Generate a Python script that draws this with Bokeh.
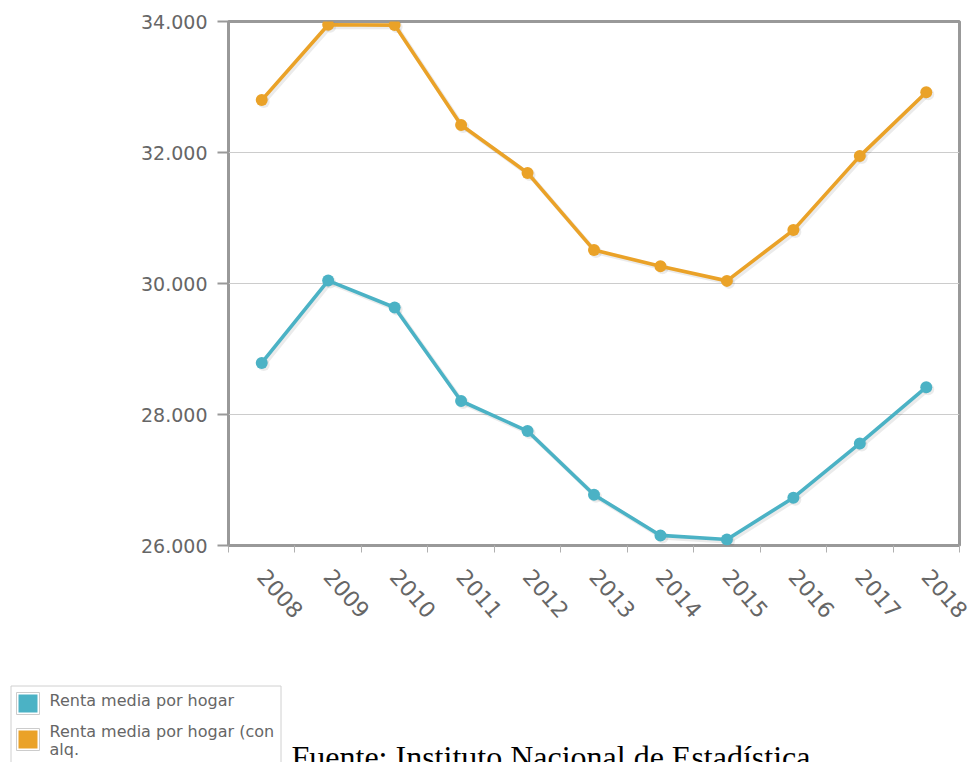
import math
import textwrap
from bokeh.plotting import figure
from bokeh.models import Range1d, FixedTicker, Label, ColumnDataSource
from bokeh.layouts import column
from bokeh.embed import file_html
from bokeh.resources import INLINE

# ---------------- data ----------------
years = [2008, 2009, 2010, 2011, 2012, 2013, 2014, 2015, 2016, 2017, 2018]
renta_hogar = [28787, 30045, 29634, 28206, 27747, 26775, 26154, 26092, 26730, 27558, 28417]
renta_hogar_alq = [32800, 33950, 33945, 32420, 31688, 30510, 30265, 30040, 30815, 31945, 32920]
series_names = ["Renta media por hogar", "Renta media por hogar (con alq."]
series_colors = ["#4bb2c5", "#eaa228"]
y_ticks = [26000, 28000, 30000, 32000, 34000]
y_tick_labels = ["26.000", "28.000", "30.000", "32.000", "34.000"]
ghost_title = "yenda"
source_text = "Fuente: Instituto Nacional de Estadística"

# ---------------- layout constants ----------------
W = 970
H_MAIN = 650
H_BOT = 112
FL, FR, FT, FB = 228, 11, 21, 105          # frame borders
FONT = "DejaVu Sans"

frame_w = W - FL - FR
frame_h = H_MAIN - FT - FB

x_start, x_end = years[0] - 0.5, years[-1] + 0.5
y_start, y_end = y_ticks[0], y_ticks[-1]

p = figure(width=W, height=H_MAIN, output_backend="svg", toolbar_location=None,
           x_range=Range1d(x_start, x_end), y_range=Range1d(y_start, y_end),
           min_border_left=FL, min_border_right=FR, min_border_top=FT, min_border_bottom=FB)
p.frame_align = False
p.background_fill_color = "white"
p.border_fill_color = "white"
p.outline_line_color = "#999999"
p.outline_line_width = 3

# shadow ranges (offset a couple of pixels right / down)
sh_dx = 2.0 * (x_end - x_start) / frame_w
sh_dy = 2.0 * (y_end - y_start) / frame_h
p.extra_x_ranges = {"shadow": Range1d(x_start - sh_dx, x_end - sh_dx)}
p.extra_y_ranges = {"shadow": Range1d(y_start + sh_dy, y_end + sh_dy)}

# x axis
bounds = [y - 0.5 for y in years] + [years[-1] + 0.5]
p.xaxis.ticker = FixedTicker(ticks=years, minor_ticks=bounds)
p.xaxis.axis_line_color = None
p.xaxis.major_tick_in = 0
p.xaxis.major_tick_out = 0
p.xaxis.minor_tick_in = 0
p.xaxis.minor_tick_out = 7
p.xaxis.minor_tick_line_color = "#b0b0b0"
p.xaxis.minor_tick_line_width = 1
p.xaxis.major_label_orientation = -0.85
p.xaxis.major_label_standoff = 20
p.xaxis.major_label_text_font = FONT
p.xaxis.major_label_text_font_size = "22px"
p.xaxis.major_label_text_color = "#666666"

# y axis
p.yaxis.ticker = FixedTicker(ticks=y_ticks)
p.yaxis.major_label_overrides = dict(zip(y_ticks, y_tick_labels))
p.yaxis.axis_line_color = None
p.yaxis.major_tick_in = 0
p.yaxis.major_tick_out = 11
p.yaxis.major_tick_line_color = "#999999"
p.yaxis.major_tick_line_width = 2
p.yaxis.minor_tick_line_color = None
p.yaxis.major_label_standoff = 10
p.yaxis.major_label_text_font = FONT
p.yaxis.major_label_text_font_size = "19px"
p.yaxis.major_label_text_color = "#666666"

p.xgrid.grid_line_color = None
p.ygrid.grid_line_color = "#cccccc"
p.ygrid.grid_line_width = 1

for vals, color in zip([renta_hogar, renta_hogar_alq], series_colors):
    src = ColumnDataSource(dict(x=years, y=vals))
    p.line("x", "y", source=src, x_range_name="shadow", y_range_name="shadow",
           line_color="black", line_alpha=0.08, line_width=4.5)
    p.scatter("x", "y", source=src, x_range_name="shadow", y_range_name="shadow",
              size=12, fill_color="black", fill_alpha=0.08, line_color=None)
    p.line("x", "y", source=src, line_color=color, line_width=3.6)
    p.scatter("x", "y", source=src, size=12, fill_color=color, line_color=None)

# faint ghost of a legend title behind the chart (placed left of the frame)
ghost_x = x_start - (FL - 137) * (x_end - x_start) / frame_w
ghost_y = y_end - (73 - FT) * (y_end - y_start) / frame_h
p.add_layout(Label(x=ghost_x, y=ghost_y, text=ghost_title, text_font=FONT,
                   text_font_size="24px", text_color="#e8e8e8",
                   text_baseline="alphabetic", text_align="left"))

# ---------------- bottom panel: legend + source ----------------
q = figure(width=W, height=H_BOT, output_backend="svg", toolbar_location=None,
           x_range=Range1d(0, W), y_range=Range1d(H_BOT, 0),
           x_axis_location=None, y_axis_location=None, min_border=0)
q.frame_align = False
q.grid.visible = False
q.outline_line_color = None
q.background_fill_color = "white"
q.border_fill_color = "white"

q.quad(left=10.5, right=280.5, top=35.5, bottom=H_BOT + 10,
       fill_color="white", line_color="#d0d0d0", line_width=1)

sw_tops = [42, 78]
text_base = [[50], [81, 99]]
for name, color, top, bases in zip(series_names, series_colors, sw_tops, text_base):
    q.quad(left=16, right=39, top=top, bottom=top + 22, fill_color="white",
           line_color="#cccccc", line_width=1)
    q.quad(left=18, right=37, top=top + 2, bottom=top + 20, fill_color=color,
           line_color=None)
    lines = textwrap.wrap(name, 26)
    for ln, b in zip(lines, bases):
        q.add_layout(Label(x=49, y=b, text=ln, text_font=FONT, text_font_size="16px",
                           text_color="#666666", text_baseline="alphabetic",
                           text_align="left"))

q.add_layout(Label(x=291, y=106, text=source_text, text_font="Liberation Serif",
                   text_font_size="32px", text_color="#000000",
                   text_baseline="alphabetic", text_align="left"))

layout = column(p, q, spacing=0)
open("out.html", "w").write(file_html(layout, INLINE))
